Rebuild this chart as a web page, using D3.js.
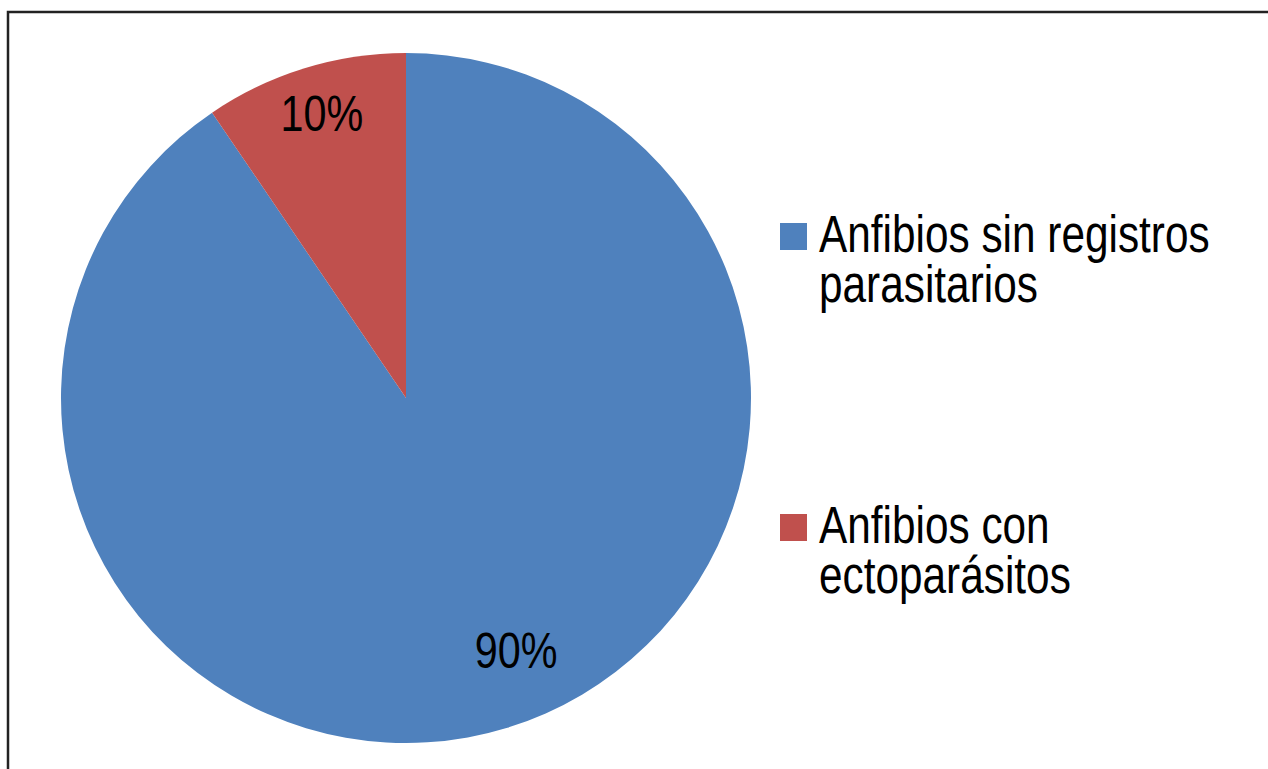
<!DOCTYPE html>
<html lang="es">
    <head>
        <meta charset="utf-8">
        <title>Anfibios con ectoparásitos</title>
        <script src="https://cdnjs.cloudflare.com/ajax/libs/d3/7.8.5/d3.min.js" charset="utf-8"></script>
        <style>
        body {
          margin: 0;
          background: #fff;
          font-family: 'Liberation Sans', Arial, sans-serif;
        }
        svg {
          display: block;
        }
        </style>
    </head>
    <body>
        <svg></svg>

        <script type="text/javascript">
          // chart data (slice sizes, labels as printed)
          var categories = ["Anfibios sin registros parasitarios", "Anfibios con ectoparásitos"];
          var legendLines = [["Anfibios sin registros", "parasitarios"], ["Anfibios con", "ectoparásitos"]];
          var values = [90.5, 9.5];
          var labels = ["90%", "10%"];
          var colors = ["#4F81BD", "#C0504D"];

          var width = 1268;
          var height = 769;
          var cx = 406, cy = 398, radius = 345;
          // the original text is tall and narrow: draw it small and stretch it up
          var stretch = "scale(0.985,1.19)";

          var svg = d3.select("svg")
              .attr("width", width)
              .attr("height", height);

          // frame, only top and left edges are inside the picture
          svg.append("rect")
              .attr("x", 8)
              .attr("y", 12)
              .attr("width", 1300)
              .attr("height", 800)
              .attr("fill", "none")
              .attr("stroke", "#222")
              .attr("stroke-width", 2.5);

          var data = categories.map(function(c, i) {
              return {name: c, value: values[i], label: labels[i], color: colors[i], lines: legendLines[i]};
          });

          var pie = d3.pie()
              .sort(null)
              .value(d => d.value);

          var arc = d3.arc()
              .innerRadius(0)
              .outerRadius(radius);

          var labelArc = d3.arc()
              .innerRadius(286)
              .outerRadius(286);

          // excel-ish best fit nudges for the data labels
          var labelNudge = [[26, -21], [0, -12]];

          var g = svg.append("g")
              .attr("transform", "translate(" + cx + "," + cy + ")");

          var slices = g.selectAll("g.slice")
              .data(pie(data))
              .enter()
              .append("g")
                .attr("class", "slice");

          slices.append("path")
              .attr("d", arc)
              .attr("fill", d => d.data.color);

          slices.append("text")
              .attr("transform", function(d, i) {
                  var c = labelArc.centroid(d);
                  return "translate(" + (c[0] + labelNudge[i][0]) + "," + (c[1] + labelNudge[i][1] + 18) + ") " + stretch;
              })
              .style("text-anchor", "middle")
              .style("font-size", "42px")
              .style("fill", "#000")
              .text(d => d.data.label);

          // legend
          var legend = svg.append("g")
              .attr("transform", "translate(780,0)");

          var legendRows = [252, 543]; // baseline of first line of each entry

          var items = legend.selectAll("g.item")
              .data(data)
              .enter()
              .append("g")
                .attr("class", "item")
                .attr("transform", (d, i) => "translate(0," + legendRows[i] + ")");

          items.append("rect")
              .attr("x", 0)
              .attr("y", -29)
              .attr("width", 27)
              .attr("height", 27)
              .attr("fill", d => d.color);

          items.each(function(d) {
              var item = d3.select(this);
              d.lines.forEach(function(line, k) {
                  item.append("text")
                      .attr("transform", "translate(39," + (k * 50) + ") " + stretch)
                      .style("font-size", "43px")
                      .style("fill", "#000")
                      .text(line);
              });
          });
        </script>
    </body>
</html>
